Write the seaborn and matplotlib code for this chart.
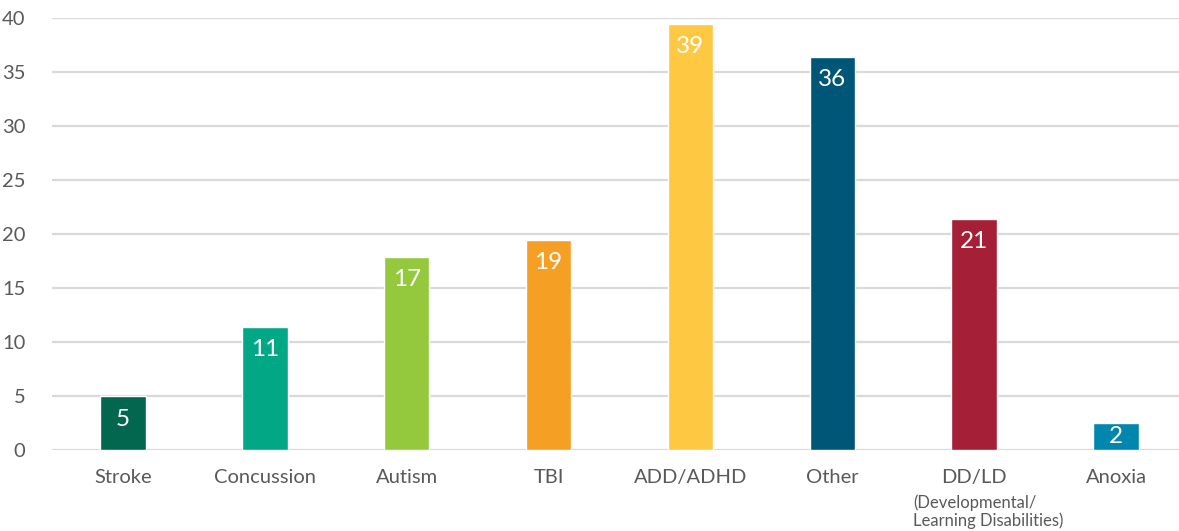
import seaborn as sns
import matplotlib.pyplot as plt
import matplotlib.transforms as mtransforms
import pandas as pd

# data
categories = ["Stroke", "Concussion", "Autism", "TBI", "ADD/ADHD", "Other", "DD/LD", "Anoxia"]
heights = [5.0, 11.4, 17.9, 19.45, 39.45, 36.4, 21.4, 2.5]
labels = ["5", "11", "17", "19", "39", "36", "21", "2"]
colors = ["#03664F", "#02A885", "#94C93D", "#F59F24", "#FEC843", "#005677", "#A51F37", "#0186AE"]
yticks = [0, 5, 10, 15, 20, 25, 30, 35, 40]

df = pd.DataFrame({"cat": categories, "val": heights})

sns.set_style("white")
plt.rcParams["font.family"] = ["Lato", "DejaVu Sans"]
txt = "#595959"

W, H = 1179, 531
fig = plt.figure(figsize=(W / 100, H / 100), dpi=100)
# axes runs a bit past the right edge, like the original
ax = fig.add_axes([52 / W, (531 - 450) / H, 1135 / W, 432 / H])

sns.barplot(data=df, x="cat", y="val", hue="cat", palette=colors, legend=False,
            width=0.32, saturation=1, ax=ax, zorder=3)

ax.set_ylim(0, 40)
ax.set_xlim(-0.5, 7.5)
ax.set_yticks(yticks)
ax.yaxis.grid(True, color="#D9D9D9", linewidth=1.6, zorder=0)
ax.set_axisbelow(True)
for s in ax.spines.values():
    s.set_visible(False)
ax.set_xlabel("")
ax.set_ylabel("")
ax.tick_params(axis="y", length=0, pad=19, labelsize=14.5, labelcolor=txt)
ax.tick_params(axis="x", length=0, pad=14, labelsize=14.5, labelcolor=txt)

# value labels inside the top of each bar (centred if the bar is too short)
for i, (h, lab) in enumerate(zip(heights, labels)):
    if h < 4:
        ax.annotate(lab, xy=(i, h / 2), ha="center", va="center",
                    color="white", fontsize=17.5)
    else:
        ax.annotate(lab, xy=(i, h), xytext=(0, -9), textcoords="offset points",
                    ha="center", va="top", color="white", fontsize=17.5)

# smaller explanation under DD/LD
trans = mtransforms.blended_transform_factory(ax.transData, ax.transAxes)
ax.text(6.1, -0.102, "(Developmental/\nLearning Disabilities)", transform=trans,
        ha="center", va="top", multialignment="left", fontsize=12,
        color=txt, linespacing=1.15)

fig.savefig("out.png", dpi=100)
